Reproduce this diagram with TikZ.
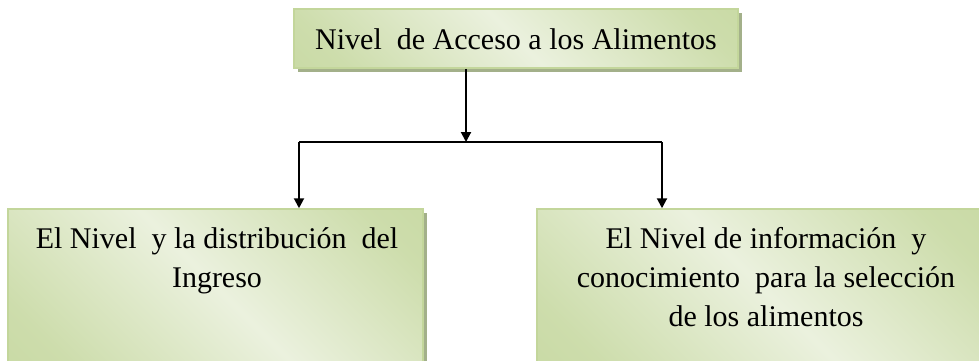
\documentclass[tikz,border=0pt]{standalone}
\usepackage{fontspec}
\setmainfont{Liberation Serif}
\usepackage{tikz}
\usetikzlibrary{arrows.meta,shadows}

\definecolor{olivedark}{HTML}{C3D69B}
\definecolor{olivelight}{HTML}{EBF1DE}
\definecolor{oliveshadow}{HTML}{A3B08A}
\pgfdeclarehorizontalshading{olivemirror}{100bp}{color(0bp)=(olivedark); color(22bp)=(olivedark!75!olivelight); color(50bp)=(olivelight); color(78bp)=(olivedark!75!olivelight); color(100bp)=(olivedark)}

\begin{document}
\begin{tikzpicture}[x=1pt, y=-1pt,
    box/.style={draw=olivedark, line width=1.5pt, shade, shading=olivemirror, shading angle=45,
      drop shadow={shadow xshift=4pt, shadow yshift=-4pt, fill=oliveshadow, opacity=1}},
    boxtext/.style={font=\fontsize{30pt}{39pt}\selectfont, inner sep=0pt, anchor=base},
    link/.style={line width=2pt, -{Triangle[length=10pt, width=10pt]}}]
      \useasboundingbox (0, 0) rectangle (979, 360);
      \node[box, minimum width=444pt, minimum height=59pt] (acceso) at (516, 38.5) {};
      \node[box, minimum width=415pt, minimum height=154pt] (ingreso) at (215.5, 286) {};
      \node[box, minimum width=447pt, minimum height=154pt] (seleccion) at (760.5, 286) {};
      \node[boxtext] (acceso text) at (516, 49) {Nivel\ \ de Acceso a los Alimentos};
      \node[boxtext] (ingreso text) at (217, 248)
        {\begin{tabular}[t]{@{}c@{}}El Nivel\ \ y la distribución\ \ del\\Ingreso\end{tabular}};
      \node[boxtext] (seleccion text) at (766, 248)
        {\begin{tabular}[t]{@{}c@{}}El Nivel de información\ \ y\\conocimiento\ \ para la selección\\de los alimentos\end{tabular}};
      \coordinate (split) at (466, 142);
      \coordinate (leftturn) at (299, 142);
      \coordinate (rightturn) at (662, 142);
      \draw[link] (acceso.south -| split) -- (split);
      \draw[line width=2pt] (leftturn) -- (rightturn);
      \draw[link] (leftturn) -- (leftturn |- ingreso.north);
      \draw[link] (rightturn) -- (rightturn |- seleccion.north);
\end{tikzpicture}
\end{document}
